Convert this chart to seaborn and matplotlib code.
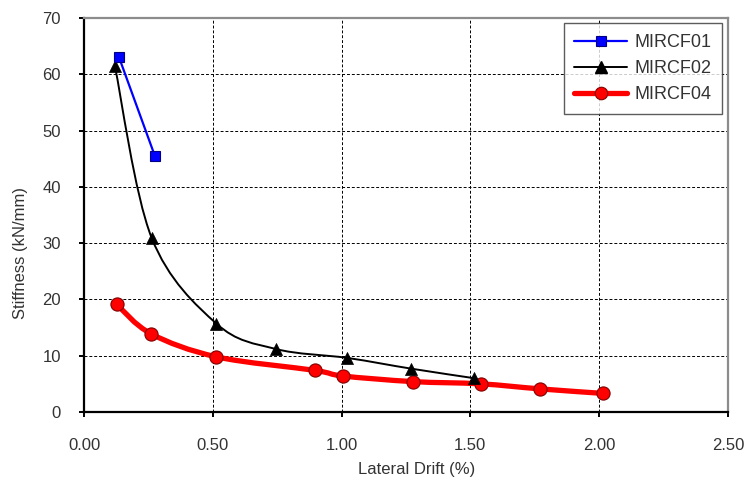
import numpy as np
import matplotlib
matplotlib.use("Agg")
import matplotlib.pyplot as plt
import seaborn as sns
from matplotlib.path import Path
from matplotlib.patches import PathPatch
from matplotlib.lines import Line2D

# Data
drift_01 = [0.136, 0.275]
stiff_01 = [63.0, 45.5]

drift_02 = [0.12, 0.262, 0.514, 0.744, 1.023, 1.27, 1.515]
stiff_02 = [61.4, 31.0, 15.7, 11.2, 9.6, 7.7, 6.0]

drift_04 = [0.127, 0.26, 0.514, 0.895, 1.004, 1.276, 1.54, 1.771, 2.015]
stiff_04 = [19.1, 13.9, 9.8, 7.4, 6.4, 5.4, 5.0, 4.1, 3.3]

x_ticks = [0.0, 0.5, 1.0, 1.5, 2.0, 2.5]
y_ticks = [0, 10, 20, 30, 40, 50, 60, 70]


def smooth_path(xs, ys):
    # Excel-like smoothed line: cubic Bezier segments through the points
    pts = np.column_stack([xs, ys])
    n = len(pts)
    verts = [pts[0]]
    codes = [Path.MOVETO]
    for i in range(n - 1):
        p0 = pts[i - 1] if i > 0 else pts[i]
        p1 = pts[i]
        p2 = pts[i + 1]
        p3 = pts[i + 2] if i + 2 < n else pts[i + 1]
        c1 = p1 + (p2 - p0) / 6.0
        c2 = p2 - (p3 - p1) / 6.0
        verts += [c1, c2, p2]
        codes += [Path.CURVE4] * 3
    return Path(verts, codes)


sns.set_style("white")
plt.rcParams['font.family'] = ['Liberation Sans', 'DejaVu Sans']

fig = plt.figure(figsize=(7.53, 4.84), dpi=100)
ax = fig.add_axes([0.1116, 0.1488, 0.855, 0.8140])

# MIRCF04 - thick red smoothed
ax.add_patch(PathPatch(smooth_path(drift_04, stiff_04), facecolor='none',
                       edgecolor='#ff0000', lw=3.8, zorder=3, capstyle='round'))
sns.scatterplot(x=drift_04, y=stiff_04, ax=ax, marker='o', s=90, color='#ff0000',
                edgecolor='#800000', linewidth=0.8, zorder=4)

# MIRCF02 - black smoothed
ax.add_patch(PathPatch(smooth_path(drift_02, stiff_02), facecolor='none',
                       edgecolor='black', lw=1.4, zorder=5))
sns.scatterplot(x=drift_02, y=stiff_02, ax=ax, marker='^', s=75, color='black',
                edgecolor='black', linewidth=0.5, zorder=6)

# MIRCF01 - blue straight
sns.lineplot(x=drift_01, y=stiff_01, ax=ax, color='#0000ff', lw=1.6, zorder=7,
             marker='s', markersize=7.5, markerfacecolor='#0000ff',
             markeredgecolor='#000080', markeredgewidth=0.8)

ax.set_xlim(0, 2.5)
ax.set_ylim(0, 70)
ax.set_xticks(x_ticks)
ax.set_yticks(y_ticks)
ax.set_xticklabels([f"{v:.2f}" for v in x_ticks])
ax.set_yticklabels([str(v) for v in y_ticks])

ax.grid(True, color='black', linestyle=(0, (3, 2)), linewidth=0.7)
ax.set_axisbelow(True)

for side in ['left', 'bottom']:
    ax.spines[side].set_color('black')
    ax.spines[side].set_linewidth(1.6)
for side in ['top', 'right']:
    ax.spines[side].set_color('#8c8c8c')
    ax.spines[side].set_linewidth(1.6)

ax.tick_params(axis='both', direction='out', length=3.5, width=1.4, color='black',
               labelsize=12, labelcolor='#333333', left=True, bottom=True)
ax.tick_params(axis='y', pad=13)
ax.tick_params(axis='x', pad=15)

ax.set_xlabel('Lateral Drift (%)', fontsize=12, color='#333333', va='center')
ax.set_ylabel('Stiffness (kN/mm)', fontsize=12, color='#333333', va='center')
ax.xaxis.set_label_coords(0.517, -0.145)
ax.yaxis.set_label_coords(-0.099, 0.404)

handles = [
    Line2D([], [], color='#0000ff', lw=1.6, marker='s', markersize=7.5,
           markerfacecolor='#0000ff', markeredgecolor='#000080', markeredgewidth=0.8),
    Line2D([], [], color='black', lw=1.4, marker='^', markersize=8,
           markerfacecolor='black', markeredgecolor='black'),
    Line2D([], [], color='#ff0000', lw=3.8, marker='o', markersize=9,
           markerfacecolor='#ff0000', markeredgecolor='#800000', markeredgewidth=0.8),
]
leg = ax.legend(handles, ['MIRCF01', 'MIRCF02', 'MIRCF04'], loc='upper right',
                bbox_to_anchor=(0.9907, 0.987), borderaxespad=0, fontsize=13,
                frameon=True, fancybox=False, handlelength=2.9, handletextpad=0.4,
                labelspacing=0.5, borderpad=0.6, labelcolor='#333333')
leg.get_frame().set_edgecolor('#333333')
leg.get_frame().set_linewidth(1.0)
leg.set_zorder(10)

fig.savefig('out.png', dpi=100)
